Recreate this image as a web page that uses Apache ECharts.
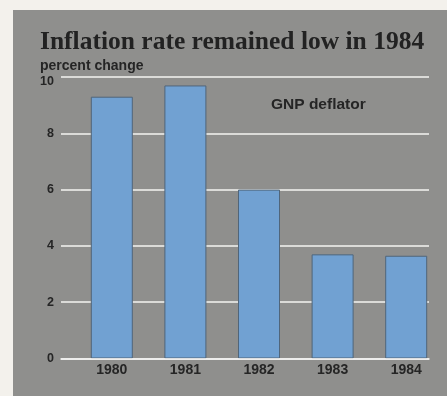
<!DOCTYPE html>
<html>
<head>
<meta charset="utf-8">
<script src="https://cdn.jsdelivr.net/npm/echarts@6/dist/echarts.min.js"></script>
<style>
  html, body { margin: 0; padding: 0; background: #f3f1ec; }
  #chart { width: 447px; height: 396px; }
</style>
</head>
<body>
<div id="chart"></div>
<script>
// GNP deflator, annual percent change
const years = ['1980', '1981', '1982', '1983', '1984'];
const deflator = [9.3, 9.7, 6.0, 3.7, 3.65];
const yMin = 0;
const yMax = 10;
const yStep = 2;

const sans = '"Liberation Sans", Arial, sans-serif';
const ink = '#252525';

const chart = echarts.init(document.getElementById('chart'), null, { renderer: 'canvas' });

chart.setOption({
  backgroundColor: '#f3f1ec',
  animation: false,
  graphic: [{
    type: 'rect',
    z: -10,
    shape: { x: 13, y: 10, width: 434, height: 386 },
    style: { fill: '#8f8f8d' }
  }],
  title: [
    {
      text: 'Inflation rate remained low in 1984',
      left: 40, top: 29, padding: 0,
      textStyle: { fontFamily: '"Liberation Serif", "Times New Roman", serif', fontWeight: 'bold', fontSize: 25.5, color: '#222222' }
    },
    {
      text: 'percent change',
      left: 40, top: 59, padding: 0,
      textStyle: { fontFamily: sans, fontWeight: 'bold', fontSize: 14, color: ink }
    },
    {
      text: 'GNP deflator',
      left: 271, top: 97, padding: 0,
      textStyle: { fontFamily: sans, fontWeight: 'bold', fontSize: 15.5, color: ink }
    }
  ],
  grid: [
    // grid for the value scale and its white rules
    { left: 61, right: 18, top: 77, bottom: 37.5 },
    // grid for the yearly bars
    { left: 75, right: 4, top: 77, bottom: 37.5 }
  ],
  xAxis: [
    {
      gridIndex: 0, type: 'value', min: 0, max: 1, z: 10,
      axisLine: { show: true, lineStyle: { color: '#f4f4f2', width: 1.5 } },
      axisTick: { show: false }, axisLabel: { show: false }, splitLine: { show: false }
    },
    {
      gridIndex: 1, type: 'category', data: years,
      axisLine: { show: false }, axisTick: { show: false },
      axisLabel: { margin: 5, fontFamily: sans, fontWeight: 'bold', fontSize: 14, color: ink }
    }
  ],
  yAxis: [
    {
      gridIndex: 0, type: 'value', min: yMin, max: yMax, interval: yStep,
      axisLine: { show: false }, axisTick: { show: false },
      splitLine: { lineStyle: { color: '#f4f4f2', width: 1.5 } },
      axisLabel: {
        margin: 7, fontFamily: sans, fontWeight: 'bold', fontSize: 12.5, color: ink,
        formatter: v => v === yMax ? '{top|' + v + '}' : String(v),
        rich: { top: { padding: [10, 0, 0, 0], fontFamily: sans, fontWeight: 'bold', fontSize: 12.5, color: ink } }
      }
    },
    { gridIndex: 1, type: 'value', min: yMin, max: yMax, interval: yStep, show: false }
  ],
  series: [{
    type: 'bar',
    xAxisIndex: 1, yAxisIndex: 1,
    data: deflator,
    barWidth: 42,
    itemStyle: { color: '#71a1d2', borderColor: '#50657a', borderWidth: 1 }
  }]
});
</script>
</body>
</html>
